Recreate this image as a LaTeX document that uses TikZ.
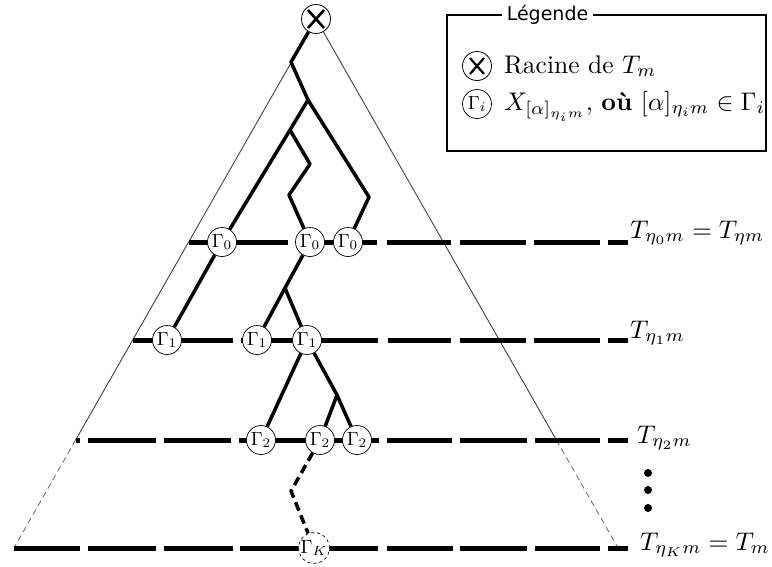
\documentclass[tikz,border=0pt]{standalone}
\usepackage{fontspec}
\usepackage{graphicx}
\newfontfamily\legfont{DejaVu Sans}
\usetikzlibrary{backgrounds}
\newcommand{\gl}[1]{\scalebox{1.9}{$\Gamma_{#1}$}}
\newcommand{\bigt}[1]{\scalebox{2.55}{#1}}
\begin{document}
\begin{tikzpicture}[x=1pt,y=-1pt,
  tedge/.style={line width=0.9pt, black!75},
  tedgedash/.style={line width=0.9pt, black!55, dash pattern=on 6pt off 4pt},
  lay/.style={line width=5pt},
  branch/.style={line width=3.5pt, line join=round},
  branchdash/.style={line width=3.5pt, line join=round, dash pattern=on 9pt off 5pt},
  gnode/.style={circle, draw, fill=white, line width=0.7pt, minimum size=29pt, inner sep=0pt},
  xnode/.style={circle, draw, fill=white, line width=0.8pt, minimum size=29pt, inner sep=0pt},
  lab/.style={inner sep=0pt},
  bigdot/.style={circle, fill=black, minimum size=8pt, inner sep=0pt}]
\useasboundingbox (0,0) rectangle (772,566);

% root
\node[xnode] (root) at (316,19) {};
\draw[line width=2.6pt] ([shift={(-8,-9)}]root.center) -- ([shift={(8,9)}]root.center)
                        ([shift={(-8,9)}]root.center) -- ([shift={(8,-9)}]root.center);

% Gamma nodes
\node[gnode] (g0a) at (222,242) {\gl{0}};
\node[gnode] (g0b) at (310,242) {\gl{0}};
\node[gnode] (g0c) at (348,242) {\gl{0}};
\node[gnode] (g1a) at (167,340) {\gl{1}};
\node[gnode] (g1b) at (257,340) {\gl{1}};
\node[gnode] (g1c) at (307,340) {\gl{1}};
\node[gnode] (g2a) at (261,440) {\gl{2}};
\node[gnode] (g2b) at (320,440) {\gl{2}};
\node[gnode] (g2c) at (357,440) {\gl{2}};
\node[gnode, dashed] (gK) at (314,548) {\gl{K}};

% junctions
\coordinate (a) at (291,62);
\coordinate (b) at (308,100);
\coordinate (c) at (290,130);
\coordinate (d) at (310,164);
\coordinate (e) at (289,195);
\coordinate (f) at (369,197);
\coordinate (h) at (285,288);
\coordinate (i) at (337,395);
\coordinate (j) at (291,491);

% triangle corners
\coordinate (ML) at (75.6,440);
\coordinate (MR) at (556.4,440);
\coordinate (BL) at (14,548);
\coordinate (BR) at (618,548);

% level labels
\node[lab, anchor=base west] (l0) at (630,238) {\bigt{$T_{\eta_0 m} = T_{\eta m}$}};
\node[lab, anchor=base west] (l1) at (630,338) {\bigt{$T_{\eta_1 m}$}};
\node[lab, anchor=base west] (l2) at (637,443) {\bigt{$T_{\eta_2 m}$}};
\node[lab, anchor=base west] (lK) at (640,550) {\bigt{$T_{\eta_K m} = T_m$}};
\node[bigdot] (d1) at (648,473) {};
\node[bigdot] (d2) at (648,490) {};
\node[bigdot] (d3) at (648,508) {};

% legend
\node[draw, line width=2pt, minimum width=319pt, minimum height=136pt, anchor=north west] (legend) at (446,14) {};
\node[fill=white, inner xsep=5pt, inner ysep=1pt, anchor=base, font=\legfont\fontsize{19}{22}\selectfont] (legtitle) at (547.5,20) {Légende};
\node[xnode] (legx) at (477,66) {};
\draw[line width=2.2pt] ([shift={(-7,-8)}]legx.center) -- ([shift={(7,8)}]legx.center)
                        ([shift={(-7,8)}]legx.center) -- ([shift={(7,-8)}]legx.center);
\node[gnode] (legg) at (477,104) {\gl{i}};
\node[lab, anchor=base west] (legt1) at (504,73) {\bigt{Racine de $T_m$}};
\node[lab, anchor=base west] (legt2) at (504,110) {\bigt{$X_{[\alpha]_{\eta_i m}}$, \textbf{où} $[\alpha]_{\eta_i m} \in \Gamma_i$}};

\begin{pgfonlayer}{background}
  % triangle
  \draw[tedge] (root) -- (ML);
  \draw[tedgedash] (ML) -- (BL);
  \draw[tedge] (root) -- (MR);
  \draw[tedgedash] (MR) -- (BR);
  % levels
  \draw[lay] (188.7,242) -- (288,242) (310,242) -- (377,242) (387,242) -- (451,242)
             (460,242) -- (526,242) (534,242) -- (600,242) (608,242) -- (628,242);
  \draw[lay] (132.7,340) -- (233,340) (241,340) -- (378,340) (388,340) -- (451,340)
             (460,340) -- (526,340) (534,340) -- (600,340) (608,340) -- (628,340);
  \draw[lay] (75.6,440) -- (80,440) (88,440) -- (156,440) (164,440) -- (231,440)
             (239,440) -- (379,440) (387,440) -- (452,440) (460,440) -- (527,440)
             (535,440) -- (600,440) (608,440) -- (628,440);
  \draw[lay] (14,548) -- (80,548) (88,548) -- (156,548) (164,548) -- (233,548)
             (240,548) -- (378,548) (387,548) -- (453,548) (460,548) -- (527,548)
             (535,548) -- (600,548) (608,548) -- (628,548);
  % tree
  \draw[branch] (root) -- (a) -- (b) -- (c) -- (g0a);
  \draw[branch] (b) -- (f) -- (g0c);
  \draw[branch] (c) -- (d) -- (e) -- (g0b);
  \draw[branch] (g0a) -- (g1a);
  \draw[branch] (g0b) -- (h) -- (g1b);
  \draw[branch] (h) -- (g1c);
  \draw[branch] (g1c) -- (g2a);
  \draw[branch] (g1c) -- (i) -- (g2b);
  \draw[branch] (i) -- (g2c);
  \draw[branchdash] (g2b) -- (j) -- (gK);
\end{pgfonlayer}
\end{tikzpicture}
\end{document}
